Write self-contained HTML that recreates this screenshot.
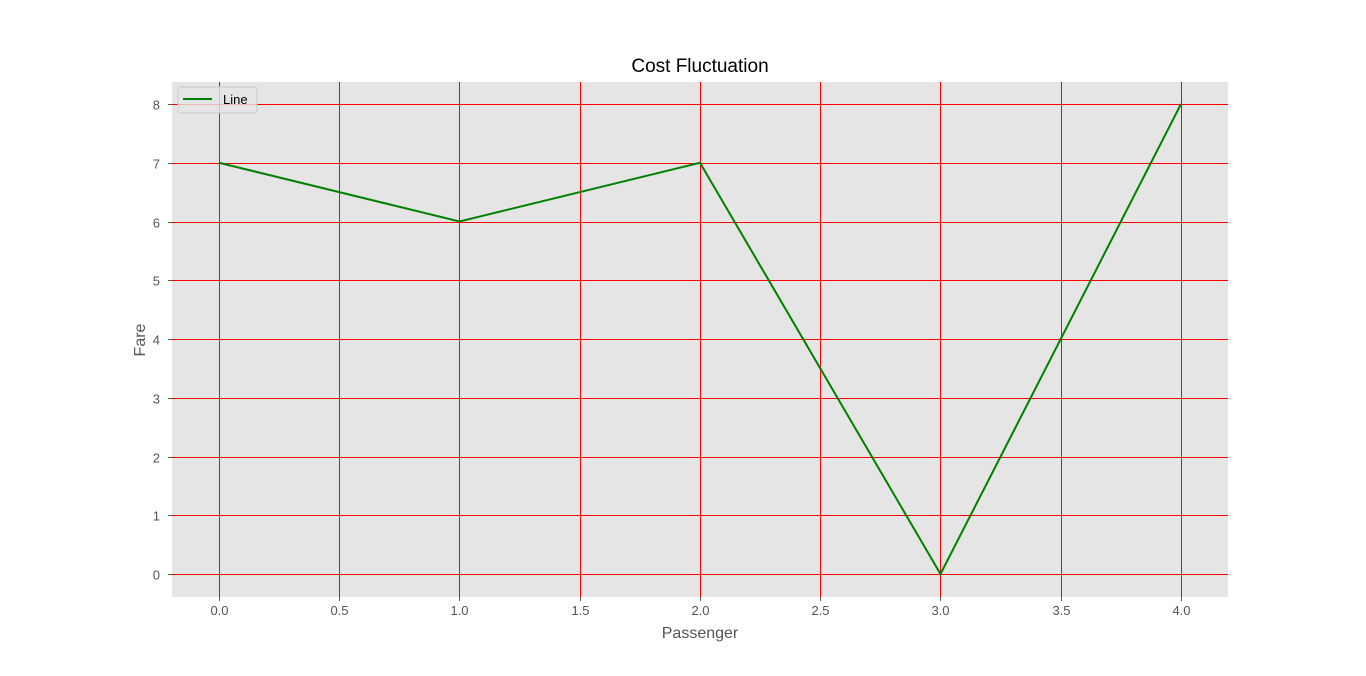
<!DOCTYPE html>
<html><head><meta charset="utf-8"><style>
body{margin:0;background:#fff;}
svg text{font-family:"Liberation Sans","DejaVu Sans",sans-serif;}
</style></head><body>
<svg id="chart" width="1366" height="671" xmlns="http://www.w3.org/2000/svg">
<rect width="1366" height="671" fill="#fff"/>
<rect x="172" y="82" width="1056" height="515" fill="#e5e5e5"/>
<g id="grid"></g><g id="ticks"></g>
<polyline id="line" fill="none" stroke="#008000" stroke-width="2"/>
<text x="700" y="72" font-size="19" text-anchor="middle" fill="#000">Cost Fluctuation</text>
<text x="700" y="638" font-size="16" text-anchor="middle" fill="#555">Passenger</text>
<text x="145" y="340" font-size="16" text-anchor="middle" fill="#555" transform="rotate(-90 145 340)">Fare</text>
<g>
<rect x="178" y="87" width="79" height="26" rx="3" fill="#e5e5e5" fill-opacity="0.8" stroke="#ccc"/>
<line x1="183" y1="99" x2="212" y2="99" stroke="#008000" stroke-width="2"/>
<text x="223" y="104" font-size="13" fill="#000">Line</text>
</g>
</svg>
<script>
const categories=[0,1,2,3,4];
const values=[7,6,7,0,8];
const xTicks=["0.0","0.5","1.0","1.5","2.0","2.5","3.0","3.5","4.0"];
const yTicks=[0,1,2,3,4,5,6,7,8];
const NS="http://www.w3.org/2000/svg";
const X0=170.9,X1=1229.1,Y0=597.5,Y1=80.5,xmin=-0.2,xmax=4.2,ymin=-0.4,ymax=8.4;
function xs(v){return X0+(v-xmin)/(xmax-xmin)*(X1-X0);}
function ys(v){return Y0-(v-ymin)/(ymax-ymin)*(Y0-Y1);}
function mk(t,a,p){const e=document.createElementNS(NS,t);for(const k in a)e.setAttribute(k,a[k]);p.appendChild(e);return e;}
const g=document.getElementById('grid'),tk=document.getElementById('ticks');
xTicks.forEach(t=>{const x=Math.round(xs(parseFloat(t)))+0.5;
 const l=mk('line',{x1:x,x2:x,y1:82,y2:597,stroke:'#ff0000','stroke-width':1},g);
 
 
 const m=mk('line',{x1:x,x2:x,y1:597,y2:601,stroke:'#555'},tk);
 
 
 const s=mk('text',{x:x,y:615,'font-size':13,'text-anchor':'middle',fill:'#555'},tk);s.textContent=t;
 
 });
yTicks.forEach(t=>{const y=Math.round(ys(t))+0.5;
 const l=mk('line',{x1:172,x2:1228,y1:y,y2:y,stroke:'#ff0000','stroke-width':1},g);
 
 
 const m=mk('line',{x1:168,x2:172,y1:y,y2:y,stroke:'#555'},tk);
 
 
 const s=mk('text',{x:160,y:y+5,'font-size':13,'text-anchor':'end',fill:'#555'},tk);s.textContent=t;
 
 });
document.getElementById('line').setAttribute('points',categories.map((c,i)=>xs(c)+','+ys(values[i])).join(' '));
</script>
</body></html>
